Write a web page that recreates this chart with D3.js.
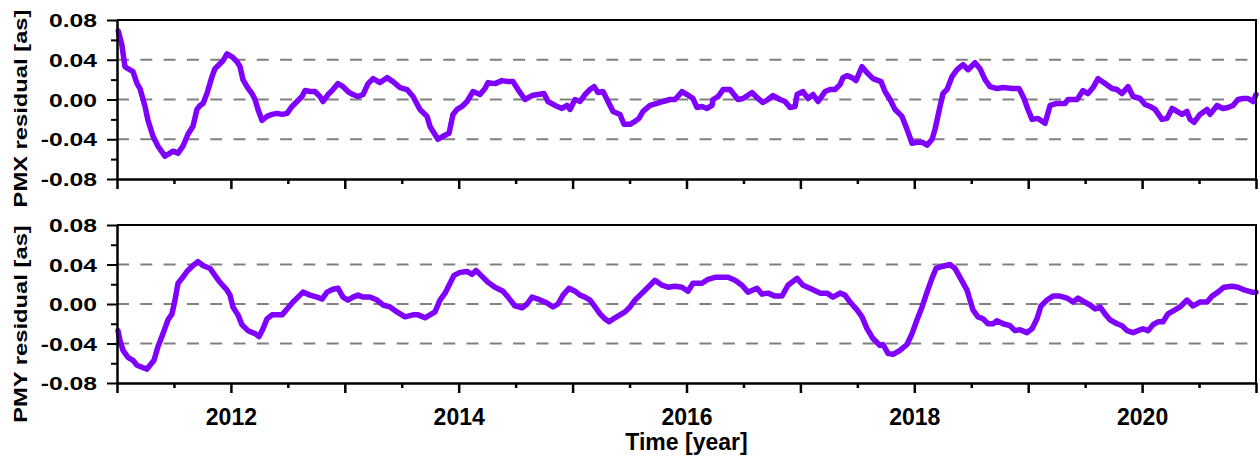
<!DOCTYPE html>
<html>
<head>
<meta charset="utf-8">
<script src="https://cdn.jsdelivr.net/npm/d3@7/dist/d3.min.js"></script>
<style>
  html, body { margin: 0; padding: 0; background: #fff; }
  svg { display: block; }
  text { font-family: "Liberation Sans", Arial, sans-serif; font-weight: bold; fill: #000; }
</style>
</head>
<body>
<svg id="chart" width="1260" height="463"></svg>
<script>
// Polar-motion residuals (arcseconds) against decimal year.
const pmxYears = [
  2011.011, 2011.041, 2011.070, 2011.097, 2011.140, 2011.176, 2011.202, 2011.246, 2011.272, 2011.316,
  2011.360, 2011.421, 2011.465, 2011.492, 2011.536, 2011.579, 2011.623, 2011.667, 2011.702, 2011.729,
  2011.755, 2011.790, 2011.834, 2011.860, 2011.904, 2011.931, 2011.966, 2012.010, 2012.054, 2012.080,
  2012.106, 2012.141, 2012.185, 2012.212, 2012.238, 2012.273, 2012.317, 2012.361, 2012.405, 2012.449,
  2012.493, 2012.537, 2012.589, 2012.624, 2012.651, 2012.695, 2012.738, 2012.782, 2012.809, 2012.853,
  2012.896, 2012.940, 2012.984, 2013.028, 2013.072, 2013.116, 2013.160, 2013.204, 2013.248, 2013.309,
  2013.371, 2013.423, 2013.485, 2013.546, 2013.599, 2013.660, 2013.722, 2013.748, 2013.774, 2013.818,
  2013.862, 2013.915, 2013.950, 2013.985, 2014.029, 2014.073, 2014.126, 2014.187, 2014.231, 2014.257,
  2014.319, 2014.380, 2014.433, 2014.477, 2014.521, 2014.582, 2014.644, 2014.696, 2014.749, 2014.784,
  2014.846, 2014.907, 2014.951, 2014.977, 2015.021, 2015.065, 2015.109, 2015.153, 2015.188, 2015.223,
  2015.267, 2015.311, 2015.355, 2015.416, 2015.451, 2015.504, 2015.548, 2015.583, 2015.618, 2015.680,
  2015.741, 2015.794, 2015.855, 2015.899, 2015.961, 2016.005, 2016.057, 2016.092, 2016.136, 2016.180,
  2016.224, 2016.233, 2016.277, 2016.321, 2016.382, 2016.452, 2016.496, 2016.575, 2016.628, 2016.672,
  2016.716, 2016.760, 2016.821, 2016.865, 2016.909, 2016.953, 2016.971, 2017.023, 2017.067, 2017.111,
  2017.155, 2017.216, 2017.260, 2017.304, 2017.348, 2017.374, 2017.409, 2017.453, 2017.488, 2017.541,
  2017.585, 2017.638, 2017.708, 2017.743, 2017.787, 2017.831, 2017.892, 2017.936, 2017.980, 2018.024,
  2018.068, 2018.112, 2018.156, 2018.182, 2018.226, 2018.252, 2018.287, 2018.331, 2018.375, 2018.428,
  2018.472, 2018.533, 2018.577, 2018.621, 2018.665, 2018.726, 2018.779, 2018.858, 2018.920, 2018.963,
  2018.998, 2019.034, 2019.086, 2019.148, 2019.192, 2019.253, 2019.323, 2019.350, 2019.429, 2019.481,
  2019.525, 2019.569, 2019.613, 2019.675, 2019.736, 2019.780, 2019.824, 2019.877, 2019.921, 2019.982,
  2020.026, 2020.070, 2020.114, 2020.175, 2020.219, 2020.263, 2020.307, 2020.350, 2020.394, 2020.421,
  2020.456, 2020.508, 2020.570, 2020.596, 2020.658, 2020.710, 2020.754, 2020.798, 2020.842, 2020.886,
  2020.930, 2020.974, 2021.000
];
const pmxValues = [
  0.069, 0.056, 0.033, 0.031, 0.028, 0.016, 0.011, -0.007, -0.021, -0.037,
  -0.047, -0.057, -0.054, -0.052, -0.054, -0.047, -0.035, -0.027, -0.010, -0.006,
  -0.004, 0.006, 0.023, 0.031, 0.036, 0.039, 0.046, 0.043, 0.038, 0.033,
  0.020, 0.013, 0.006, 0.000, -0.010, -0.021, -0.017, -0.015, -0.014, -0.015,
  -0.014, -0.007, -0.001, 0.003, 0.009, 0.008, 0.008, 0.003, -0.002, 0.005,
  0.010, 0.016, 0.013, 0.008, 0.005, 0.003, 0.005, 0.016, 0.021, 0.017,
  0.022, 0.018, 0.012, 0.010, 0.003, -0.010, -0.017, -0.027, -0.032, -0.040,
  -0.037, -0.034, -0.015, -0.010, -0.007, -0.002, 0.008, 0.005, 0.011, 0.017,
  0.016, 0.019, 0.018, 0.018, 0.010, 0.000, 0.004, 0.005, 0.006, -0.002,
  -0.006, -0.009, -0.006, -0.010, 0.000, -0.002, 0.005, 0.010, 0.013, 0.007,
  0.008, -0.002, -0.012, -0.015, -0.025, -0.025, -0.022, -0.019, -0.012, -0.006,
  -0.004, -0.002, 0.000, 0.000, 0.008, 0.005, 0.001, -0.008, -0.007, -0.009,
  -0.006, 0.000, 0.003, 0.010, 0.010, 0.000, 0.001, 0.007, 0.001, -0.003,
  0.000, 0.004, 0.000, -0.002, -0.008, -0.007, 0.005, 0.008, 0.001, 0.005,
  -0.002, 0.008, 0.010, 0.010, 0.015, 0.022, 0.024, 0.022, 0.019, 0.033,
  0.027, 0.021, 0.018, 0.008, 0.000, -0.010, -0.017, -0.030, -0.044, -0.043,
  -0.043, -0.046, -0.040, -0.030, -0.007, 0.006, 0.010, 0.023, 0.030, 0.035,
  0.030, 0.037, 0.031, 0.020, 0.013, 0.011, 0.012, 0.011, 0.011, 0.001,
  -0.010, -0.020, -0.019, -0.024, -0.006, -0.004, -0.004, 0.000, 0.000, 0.009,
  0.006, 0.012, 0.021, 0.016, 0.011, 0.010, 0.006, 0.013, 0.003, 0.001,
  -0.005, -0.007, -0.010, -0.020, -0.019, -0.009, -0.012, -0.015, -0.012, -0.020,
  -0.023, -0.015, -0.010, -0.015, -0.006, -0.009, -0.008, -0.006, 0.000, 0.001,
  0.001, -0.002, 0.005
];

const pmyYears = [
  2011.009, 2011.026, 2011.053, 2011.097, 2011.140, 2011.176, 2011.219, 2011.263, 2011.290, 2011.325,
  2011.360, 2011.404, 2011.448, 2011.483, 2011.509, 2011.536, 2011.571, 2011.615, 2011.658, 2011.711,
  2011.755, 2011.817, 2011.860, 2011.904, 2011.966, 2011.992, 2012.018, 2012.062, 2012.097, 2012.150,
  2012.212, 2012.247, 2012.282, 2012.317, 2012.361, 2012.405, 2012.449, 2012.493, 2012.545, 2012.589,
  2012.633, 2012.695, 2012.756, 2012.800, 2012.844, 2012.896, 2012.940, 2012.984, 2013.028, 2013.072,
  2013.116, 2013.160, 2013.221, 2013.283, 2013.335, 2013.397, 2013.458, 2013.529, 2013.599, 2013.643,
  2013.704, 2013.748, 2013.792, 2013.836, 2013.880, 2013.924, 2013.959, 2014.011, 2014.073, 2014.117,
  2014.152, 2014.205, 2014.257, 2014.319, 2014.389, 2014.433, 2014.494, 2014.556, 2014.600, 2014.644,
  2014.696, 2014.775, 2014.828, 2014.872, 2014.916, 2014.968, 2015.021, 2015.065, 2015.109, 2015.153,
  2015.197, 2015.241, 2015.284, 2015.320, 2015.372, 2015.416, 2015.460, 2015.504, 2015.548, 2015.592,
  2015.636, 2015.680, 2015.723, 2015.785, 2015.838, 2015.899, 2015.961, 2016.013, 2016.057, 2016.136,
  2016.189, 2016.250, 2016.312, 2016.365, 2016.426, 2016.487, 2016.540, 2016.619, 2016.663, 2016.716,
  2016.777, 2016.838, 2016.891, 2016.970, 2017.023, 2017.102, 2017.172, 2017.234, 2017.286, 2017.348,
  2017.392, 2017.436, 2017.497, 2017.541, 2017.585, 2017.637, 2017.699, 2017.725, 2017.769, 2017.813,
  2017.874, 2017.936, 2017.980, 2018.024, 2018.068, 2018.112, 2018.155, 2018.191, 2018.243, 2018.313,
  2018.357, 2018.401, 2018.463, 2018.515, 2018.559, 2018.603, 2018.647, 2018.691, 2018.726, 2018.779,
  2018.840, 2018.884, 2018.928, 2018.990, 2019.034, 2019.077, 2019.112, 2019.165, 2019.218, 2019.279,
  2019.341, 2019.393, 2019.437, 2019.481, 2019.543, 2019.587, 2019.631, 2019.674, 2019.718, 2019.780,
  2019.824, 2019.868, 2019.920, 2019.964, 2020.008, 2020.052, 2020.096, 2020.140, 2020.184, 2020.227,
  2020.289, 2020.333, 2020.394, 2020.447, 2020.508, 2020.570, 2020.614, 2020.666, 2020.719, 2020.789,
  2020.842, 2020.903, 2020.965, 2021.000
];
const pmyValues = [
  -0.027, -0.037, -0.047, -0.054, -0.057, -0.062, -0.064, -0.066, -0.062, -0.057,
  -0.043, -0.030, -0.016, -0.010, 0.004, 0.021, 0.026, 0.033, 0.038, 0.043,
  0.039, 0.036, 0.029, 0.022, 0.014, 0.009, -0.003, -0.011, -0.021, -0.027,
  -0.030, -0.033, -0.025, -0.015, -0.011, -0.011, -0.011, -0.005, 0.002, 0.007,
  0.012, 0.009, 0.007, 0.005, 0.012, 0.015, 0.016, 0.007, 0.004, 0.007,
  0.009, 0.007, 0.007, 0.004, -0.001, -0.003, -0.008, -0.013, -0.011, -0.011,
  -0.014, -0.011, -0.008, 0.004, 0.011, 0.021, 0.029, 0.032, 0.033, 0.030,
  0.034, 0.028, 0.022, 0.017, 0.013, 0.007, -0.002, -0.004, 0.000, 0.007,
  0.005, 0.001, -0.003, 0.000, 0.009, 0.016, 0.013, 0.009, 0.007, 0.004,
  -0.003, -0.010, -0.015, -0.018, -0.014, -0.011, -0.008, -0.003, 0.004, 0.009,
  0.014, 0.019, 0.024, 0.019, 0.017, 0.018, 0.017, 0.013, 0.021, 0.021,
  0.025, 0.027, 0.027, 0.027, 0.024, 0.019, 0.012, 0.016, 0.010, 0.011,
  0.008, 0.008, 0.019, 0.026, 0.019, 0.015, 0.011, 0.011, 0.007, 0.011,
  0.009, 0.002, -0.006, -0.013, -0.025, -0.035, -0.042, -0.041, -0.050, -0.051,
  -0.047, -0.041, -0.030, -0.016, -0.003, 0.012, 0.026, 0.036, 0.038, 0.040,
  0.036, 0.027, 0.014, -0.006, -0.013, -0.015, -0.020, -0.020, -0.017, -0.020,
  -0.022, -0.027, -0.026, -0.029, -0.025, -0.015, -0.002, 0.004, 0.008, 0.008,
  0.006, 0.002, 0.006, 0.003, -0.001, -0.005, -0.003, -0.010, -0.016, -0.020,
  -0.022, -0.027, -0.029, -0.027, -0.025, -0.027, -0.021, -0.018, -0.018, -0.010,
  -0.006, -0.003, 0.004, -0.002, 0.002, 0.002, 0.008, 0.012, 0.017, 0.018,
  0.017, 0.014, 0.012, 0.012
];

const yTickValues = [-0.08, -0.04, 0.00, 0.04, 0.08];
const yMinorValues = [-0.06, -0.02, 0.02, 0.06];
const yGridValues = [-0.04, 0.00, 0.04];
const xMajorYears = [2011, 2012, 2013, 2014, 2015, 2016, 2017, 2018, 2019, 2020, 2021];
const xLabelYears = [2012, 2014, 2016, 2018, 2020];
const xMinorYears = [2011.5, 2012.5, 2013.5, 2014.5, 2015.5, 2016.5, 2017.5, 2018.5, 2019.5, 2020.5];
const panelTitles = ["PMX residual [as]", "PMY residual [as]"];
const xTitle = "Time [year]";

const svg = d3.select("#chart");
const left = 117, right = 1256;
const panels = [
  { top: 20, bottom: 179, years: pmxYears, values: pmxValues, title: panelTitles[0], titleY: 108.5, labels: false },
  { top: 225, bottom: 383, years: pmyYears, values: pmyValues, title: panelTitles[1], titleY: 324, labels: true }
];

const x = d3.scaleLinear().domain([2011, 2021]).range([left, right]);
const lineColor = "#7f00ff";

panels.forEach(p => {
  const y = d3.scaleLinear().domain([-0.08, 0.08]).range([p.bottom, p.top]);
  const g = svg.append("g");

  // dashed reference lines
  g.selectAll("line.grid").data(yGridValues).join("line")
    .attr("class", "grid")
    .attr("x1", left).attr("x2", right)
    .attr("y1", d => y(d)).attr("y2", d => y(d))
    .attr("stroke", "#808080").attr("stroke-width", 2)
    .attr("stroke-dasharray", "12,11.3");

  // residual curve
  const pts = p.years.map((yr, i) => [yr, p.values[i]]);
  g.append("path")
    .datum(pts)
    .attr("fill", "none")
    .attr("stroke", lineColor)
    .attr("stroke-width", 5.5)
    .attr("stroke-linejoin", "round")
    .attr("stroke-linecap", "round")
    .attr("d", d3.line().x(d => x(d[0])).y(d => y(d[1])));

  // frame (top and right)
  g.append("path")
    .attr("d", `M${left},${p.top}H${right}V${p.bottom}`)
    .attr("fill", "none").attr("stroke", "#000").attr("stroke-width", 2);

  // y axis
  const yAxis = g.append("g").attr("transform", `translate(${left},0)`)
    .call(d3.axisLeft(y).tickValues(yTickValues).tickSize(10).tickSizeOuter(0)
      .tickFormat(d => d.toFixed(2)));
  yAxis.select(".domain").attr("stroke-width", 2.5);
  yAxis.selectAll(".tick line").attr("stroke-width", 2);
  yAxis.selectAll(".tick text")
    .attr("font-size", 19)
    .attr("x", 0)
    .attr("dy", "0.35em")
    .attr("text-anchor", "end")
    .attr("transform", "translate(-20,0) scale(1.3,1)");
  g.append("g").attr("transform", `translate(${left},0)`)
    .call(d3.axisLeft(y).tickValues(yMinorValues).tickSize(6).tickSizeOuter(0).tickFormat(""))
    .call(a => a.select(".domain").remove())
    .selectAll(".tick line").attr("stroke-width", 2);

  // x axis
  const xAxis = g.append("g").attr("transform", `translate(0,${p.bottom})`)
    .call(d3.axisBottom(x).tickValues(xMajorYears).tickSize(10).tickSizeOuter(0)
      .tickFormat(d => (p.labels && xLabelYears.includes(d)) ? String(d) : ""));
  xAxis.select(".domain").attr("stroke-width", 2.5);
  xAxis.selectAll(".tick line").attr("stroke-width", 2.5);
  xAxis.selectAll(".tick text").attr("font-size", 23).attr("y", 26).attr("dy", "0.71em");
  g.append("g").attr("transform", `translate(0,${p.bottom})`)
    .call(d3.axisBottom(x).tickValues(xMinorYears).tickSize(5).tickSizeOuter(0).tickFormat(""))
    .call(a => a.select(".domain").remove())
    .selectAll(".tick line").attr("stroke-width", 2.5);

  // y title
  g.append("text")
    .attr("transform", `translate(27,${p.titleY}) rotate(-90) scale(1.25,1)`)
    .attr("text-anchor", "middle")
    .attr("font-size", 19)
    .text(p.title);
});

svg.selectAll(".tick text").style("font-family", "'Liberation Sans', Arial, sans-serif").style("font-weight", "bold").attr("fill", "#000");

svg.append("text")
  .attr("x", (left + right) / 2)
  .attr("y", 450)
  .attr("text-anchor", "middle")
  .attr("font-size", 23)
  .text(xTitle);
</script>
</body>
</html>
